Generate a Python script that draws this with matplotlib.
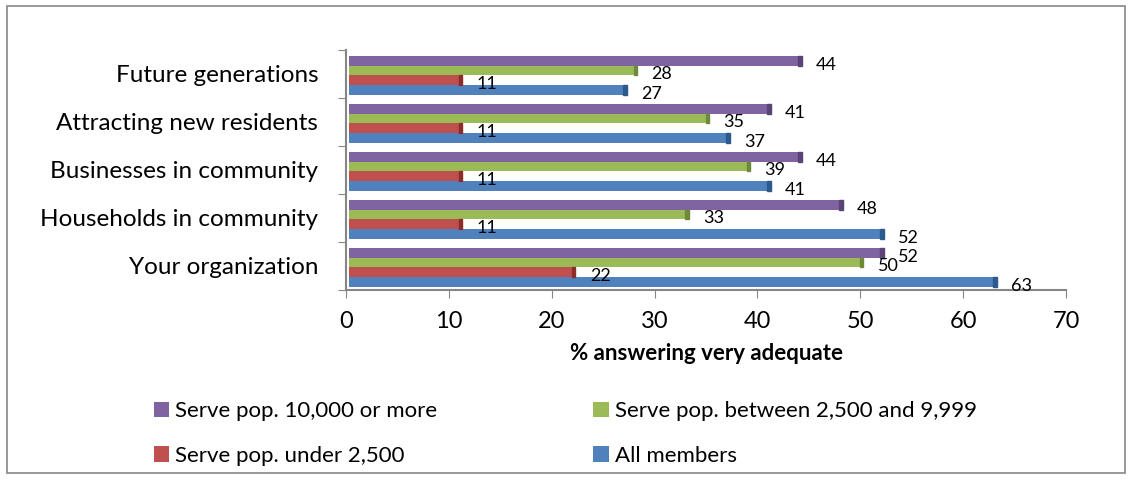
import numpy as np
import matplotlib.pyplot as plt
from matplotlib.patches import Rectangle

plt.rcParams['font.family'] = ['Lato', 'DejaVu Sans']

categories = ['Your organization', 'Households in community', 'Businesses in community',
              'Attracting new residents', 'Future generations']
series_names = ['All members', 'Serve pop. under 2,500',
                'Serve pop. between 2,500 and 9,999', 'Serve pop. 10,000 or more']
all_members = [63, 52, 41, 37, 27]
under_2500 = [22, 11, 11, 11, 11]
between_2500_9999 = [50, 33, 39, 35, 28]
over_10000 = [52, 48, 44, 41, 44]
colors = ['#4F81BD', '#C0504D', '#9BBB59', '#8064A2']
edge_colors = ['#2C5A8C', '#8C2D2A', '#6E8A38', '#5A4377']

fig = plt.figure(figsize=(11.32, 4.8), dpi=100)
ax = fig.add_axes([0.3057, 0.396, 0.636, 0.50])

y = np.arange(len(categories))
h = 0.2
offsets = [-1.5 * h, -0.5 * h, 0.5 * h, 1.5 * h]
data = [all_members, under_2500, between_2500_9999, over_10000]

for vals, off, c, ec, name in zip(data, offsets, colors, edge_colors, series_names):
    bars = ax.barh(y + off - 0.03, vals, height=h, left=0.3, color=c,
                   label=name, zorder=3)
    for b, v in zip(bars, vals):
        # darker end cap for a bit of depth
        ax.add_patch(Rectangle((v - 0.05, b.get_y()), 0.35, b.get_height(),
                               color=ec, zorder=4))
        ax.text(v + 1.7, b.get_y() + b.get_height() / 2 - 0.08, str(v),
                va='center', ha='left', fontsize=13, zorder=5)

ax.set_xlim(0, 70)
ax.set_ylim(-0.5, len(categories) - 0.5)
ax.set_xticks(range(0, 71, 10))
ax.set_yticks(np.arange(-0.5, len(categories), 1), minor=False)
ax.set_yticklabels([])
ax.set_yticks(y, minor=True)
ax.set_yticklabels(categories, minor=True, fontsize=17.5)
ax.tick_params(axis='y', which='minor', length=0, pad=20)
ax.tick_params(axis='y', which='major', length=6, color='#868686', direction='out')
ax.tick_params(axis='x', length=6, color='#868686', labelsize=17, pad=9)

for side in ['top', 'right']:
    ax.spines[side].set_visible(False)
for side in ['left', 'bottom']:
    ax.spines[side].set_color('#868686')
    ax.spines[side].set_linewidth(1.5)

ax.set_xlabel('% answering very adequate', fontsize=16, fontweight='bold', labelpad=8)

handles, labels = ax.get_legend_handles_labels()
order = [3, 1, 2, 0]
fig.legend([handles[i] for i in order], [labels[i] for i in order],
           loc='lower left', bbox_to_anchor=(0.118, -0.012), ncol=2, frameon=False,
           fontsize=16, handlelength=0.7, handleheight=0.7, handletextpad=0.25,
           columnspacing=7.05, labelspacing=1.1)

# outer border
fig.patches.append(Rectangle((0.006, 0.015), 0.988, 0.972, transform=fig.transFigure,
                             fill=False, edgecolor='#868686', linewidth=1.2))

fig.savefig('out.png', dpi=100)
